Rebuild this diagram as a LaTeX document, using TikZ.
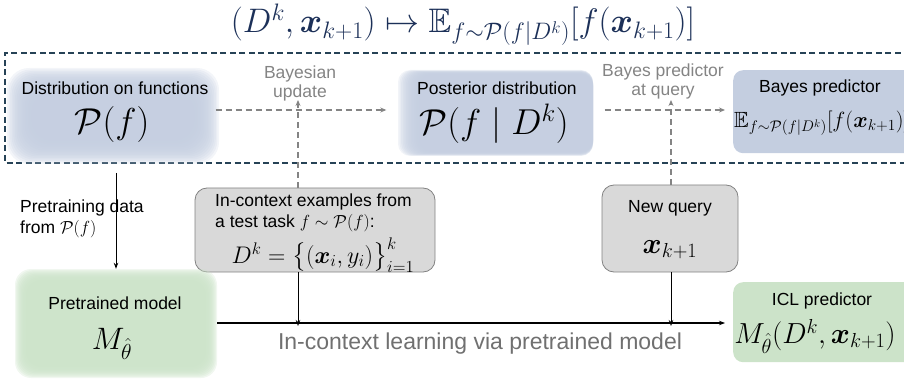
\RequirePackage{fix-cm}
\documentclass[tikz,border=0pt]{standalone}
\usepackage{amsmath,amssymb,bm}
\usepackage{fontspec}
\setmainfont{Liberation Sans}
\usetikzlibrary{arrows.meta}
\definecolor{bluefill}{RGB}{196,206,224}
\definecolor{greenfill}{RGB}{204,227,201}
\definecolor{grayfill}{RGB}{217,217,217}
\definecolor{grayline}{RGB}{130,130,130}
\definecolor{dashframe}{RGB}{38,66,86}
\definecolor{titleblue}{RGB}{28,48,88}
\definecolor{labelgray}{RGB}{132,132,132}
\definecolor{bottomgray}{RGB}{112,112,112}
\begin{document}
\begin{tikzpicture}[x=1pt,y=-1pt,
  lbl/.style={font=\fontsize{17.5}{21}\selectfont, inner sep=0pt},
  glbl/.style={lbl, text=labelgray},
  bigmath/.style={font=\fontsize{#1}{#1}\selectfont, inner sep=0pt},
  dasharrow/.style={draw=labelgray, line width=1.4pt, dash pattern=on 6pt off 4pt, -{Stealth[length=6pt,width=5pt]}},
  solidarrow/.style={draw=black, line width=0.9pt, -{Stealth[length=6pt,width=4.5pt]}},
  graybox/.style={draw=grayline, fill=grayfill, rounded corners=12pt, line width=0.8pt, inner sep=0pt},
  plainbox/.style={rounded corners=10pt, inner sep=0pt, anchor=north west},
  anchorbox/.style={inner sep=0pt, minimum width=#1},
]
\useasboundingbox (0,0) rectangle (904,379);

% title
\node[bigmath=34, text=titleblue] (title) at (463,25)
  {$(D^k,\bm{x}_{k+1})\mapsto\mathbb{E}_{f\sim\mathcal{P}(f\mid D^k)}[f(\bm{x}_{k+1})]$};

% dashed frame
\draw[dashframe, line width=1.2pt, dash pattern=on 6pt off 3.5pt]
  (910,53) -- (5,53) -- (5,163) -- (910,163);

% blurred prior region
\foreach \i in {0,...,15}
  \fill[bluefill, opacity=0.2, rounded corners=22pt]
    ({7+\i*1.6},{68+\i*1.5}) rectangle ({219-\i*1.6},{164-\i*1.5});
\node[anchorbox=205pt, minimum height=92pt] (pfbox) at (113,116) {};
\node[lbl] (pftitle) at (115,88) {Distribution on functions};
\node[bigmath=36] (pf) at (112,125) {$\mathcal{P}(f)$};

% blurred posterior region
\foreach \i in {0,...,13}
  \fill[bluefill, opacity=0.22, rounded corners=12pt]
    ({398+\i*1.6},{70+\i*0.3}) rectangle (593,{156-\i*0.3});
\node[anchorbox=195pt, minimum height=86pt] (postbox) at (496,113) {};
\node[lbl] (posttitle) at (497,88) {Posterior distribution};
\node[bigmath=36] (post) at (494,124) {$\mathcal{P}(f\mid D^k)$};

% Bayes predictor box
\node[plainbox, fill=bluefill, minimum width=190pt, minimum height=83pt] (bayes) at (733,70) {};
\node[lbl] (bayestitle) at (820,88) {Bayes predictor};
\node[bigmath=22, anchor=west] (bayesf) at (734,123)
  {$\mathbb{E}_{f\sim\mathcal{P}(f\mid D^k)}[f(\bm{x}_{k+1})]$};

% in-context examples box
\node[graybox, minimum width=240pt, minimum height=84pt] (ice) at (315,230) {};
\node[lbl, anchor=west] (ice1) at (215,202) {In-context examples from};
\node[lbl, anchor=west] (ice2) at (215,223) {a test task $f\sim\mathcal{P}(f)$:};
\node[bigmath=24] (ice3) at (323,255) {$D^k=\big\{(\bm{x}_i,y_i)\big\}_{i=1}^{k}$};

% new query box
\node[graybox, minimum width=136pt, minimum height=87pt] (nq) at (670,228.5) {};
\node[lbl] (nqtitle) at (670,208) {New query};
\node[bigmath=29] (nqx) at (670,250) {$\bm{x}_{k+1}$};

% blurred pretrained model region
\foreach \i in {0,...,9}
  \fill[greenfill, opacity=0.28, rounded corners=16pt]
    ({15+\i*1.2},{269+\i*1.2}) rectangle ({217-\i*1.2},{378-\i*1.2});
\node[anchorbox=200pt, minimum height=108pt] (pm) at (116,323) {};
\node[lbl] (pmtitle) at (115,303) {Pretrained model};
\node[bigmath=31] (pmm) at (112,344) {$M_{\hat\theta}$};

% ICL predictor box
\node[plainbox, fill=greenfill, minimum width=190pt, minimum height=80pt] (icl) at (733,282) {};
\node[lbl] (icltitle) at (822,301) {ICL predictor};
\node[bigmath=29] (iclf) at (815,336) {$M_{\hat\theta}(D^k,\bm{x}_{k+1})$};

% pretraining label
\node[lbl, anchor=west] (ptl1) at (20,208) {Pretraining data};
\node[lbl, anchor=west] (ptl2) at (20,229) {from $\mathcal{P}(f)$};

% coordinates for connectors
\coordinate (bu) at (298,110);
\coordinate (bq) at (671,110);
\coordinate (ptstart) at (116,173);
\coordinate (ctx) at (298,323);
\coordinate (qry) at (671,323);

% dashed arrows in the frame
\draw[dasharrow] (pfbox.east |- bu) -- ([xshift=-12pt]postbox.west |- bu);
\node[glbl] (bul1) at (300,74) {Bayesian};
\node[glbl] (bul2) at (300,93) {update};
\draw[dasharrow] ([xshift=11pt]postbox.east |- bq) -- ([xshift=-8pt]bayes.west |- bq);
\node[glbl] (bql1) at (663,72) {Bayes predictor};
\node[glbl] (bql2) at (663,92) {at query};
\draw[dasharrow] (ice.north -| bu) -- ([yshift=10pt]bu);
\draw[dasharrow] (nq.north -| bq) -- ([yshift=10pt]bq);

% solid arrows
\draw[solidarrow] (ptstart) -- (pm.north -| ptstart);
\draw[solidarrow] (ice.south -| ctx) -- ([yshift=-3pt]ctx);
\draw[solidarrow] (nq.south -| qry) -- ([yshift=-3pt]qry);
\draw[solidarrow, line width=1.3pt] ([xshift=1pt]pm.east |- ctx) -- ([xshift=-8pt]icl.west |- ctx);
\node[font=\fontsize{23}{27}\selectfont, text=bottomgray, inner sep=0pt] (icll) at (480,344)
  {In-context learning via pretrained model};
\end{tikzpicture}
\end{document}
